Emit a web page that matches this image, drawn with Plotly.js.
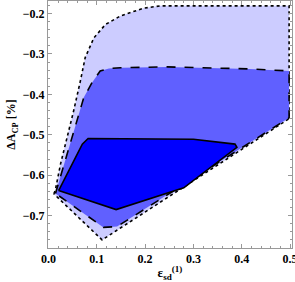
<!DOCTYPE html>
<html><head><meta charset="utf-8">
<script src="https://cdn.plot.ly/plotly-3.0.1.min.js"></script>
<style>html,body{margin:0;padding:0;background:#fff;}#plot{width:295px;height:282px;}</style>
</head><body><div id="plot"></div>
<script>
// Outer region (dotted boundary)
const outerX = [0.011, 0.014, 0.025, 0.039, 0.052, 0.066, 0.076, 0.094, 0.118, 0.149, 0.196, 0.231, 0.498, 0.498, 0.111, 0.011];
const outerY = [-0.646, -0.638, -0.572, -0.507, -0.441, -0.367, -0.309, -0.260, -0.227, -0.206, -0.187, -0.181, -0.181, -0.460, -0.760, -0.646];
// Middle region (dashed boundary)
const midX = [0.0145, 0.035, 0.049, 0.063, 0.073, 0.090, 0.107, 0.125, 0.149, 0.246, 0.417, 0.498, 0.498, 0.142, 0.114, 0.0145];
const midY = [-0.645, -0.564, -0.507, -0.449, -0.408, -0.371, -0.342, -0.336, -0.334, -0.332, -0.337, -0.342, -0.458, -0.727, -0.729, -0.645];
// Inner region (solid boundary)
const innerX = [0.021, 0.070, 0.082, 0.300, 0.386, 0.390, 0.280, 0.140, 0.021];
const innerY = [-0.638, -0.523, -0.509, -0.511, -0.523, -0.531, -0.631, -0.685, -0.638];

const xTicks = [0.0, 0.1, 0.2, 0.3, 0.4, 0.5];
const xTickText = ['0.0', '0.1', '0.2', '0.3', '0.4', '0.5'];
const yTicks = [-0.2, -0.3, -0.4, -0.5, -0.6, -0.7];
const yTickText = ['\u22120.2', '\u22120.3', '\u22120.4', '\u22120.5', '\u22120.6', '\u22120.7'];

const traces = [
  {x: outerX, y: outerY, mode: 'lines', fill: 'toself', fillcolor: 'rgb(204,204,255)',
   line: {color: '#000', width: 1.6, dash: 'dot'}, hoverinfo: 'skip'},
  {x: midX, y: midY, mode: 'lines', fill: 'toself', fillcolor: 'rgb(96,96,255)',
   line: {color: '#000', width: 1.6, dash: 'dash'}, hoverinfo: 'skip'},
  {x: innerX, y: innerY, mode: 'lines', fill: 'toself', fillcolor: 'rgb(0,0,255)',
   line: {color: '#000', width: 1.6}, hoverinfo: 'skip'}
];

const tickFont = {family: 'Liberation Serif, Times New Roman, serif', size: 12, color: '#000', weight: 'bold'};
const axisCommon = {
  showgrid: false, zeroline: false, showline: true, linecolor: '#999', linewidth: 1,
  mirror: 'allticks', ticks: 'inside', ticklen: 4, tickcolor: '#999', tickwidth: 1,
  tickfont: tickFont, tickmode: 'array', ticklabeloverflow: 'allow'
};

const layout = {
  width: 295, height: 282,
  margin: {l: 48, r: 3, t: 1, b: 34},
  paper_bgcolor: '#fff', plot_bgcolor: '#fff',
  showlegend: false,
  xaxis: Object.assign({}, axisCommon, {
    range: [-0.001, 0.504], tickvals: xTicks, ticktext: xTickText,
    minor: {dtick: 0.02, tick0: 0, ticks: 'inside', ticklen: 2, tickcolor: '#999', showgrid: false},
    title: {text: '<b>\u03b5<sub>sd</sub></b><sup><b>(1)</b></sup>', font: {family: 'Liberation Serif, serif', size: 13, color: '#000'}, standoff: 6}
  }),
  yaxis: Object.assign({}, axisCommon, {
    range: [-0.78, -0.169], tickvals: yTicks, ticktext: yTickText,
    minor: {dtick: 0.02, tick0: 0, ticks: 'inside', ticklen: 2, tickcolor: '#999', showgrid: false},
    title: {text: '<b>\u0394A<sub>CP</sub> [%]</b>', font: {family: 'Liberation Serif, serif', size: 12, color: '#000'}, standoff: 4}
  })
};

Plotly.newPlot('plot', traces, layout, {staticPlot: true, displayModeBar: false});
</script></body></html>
